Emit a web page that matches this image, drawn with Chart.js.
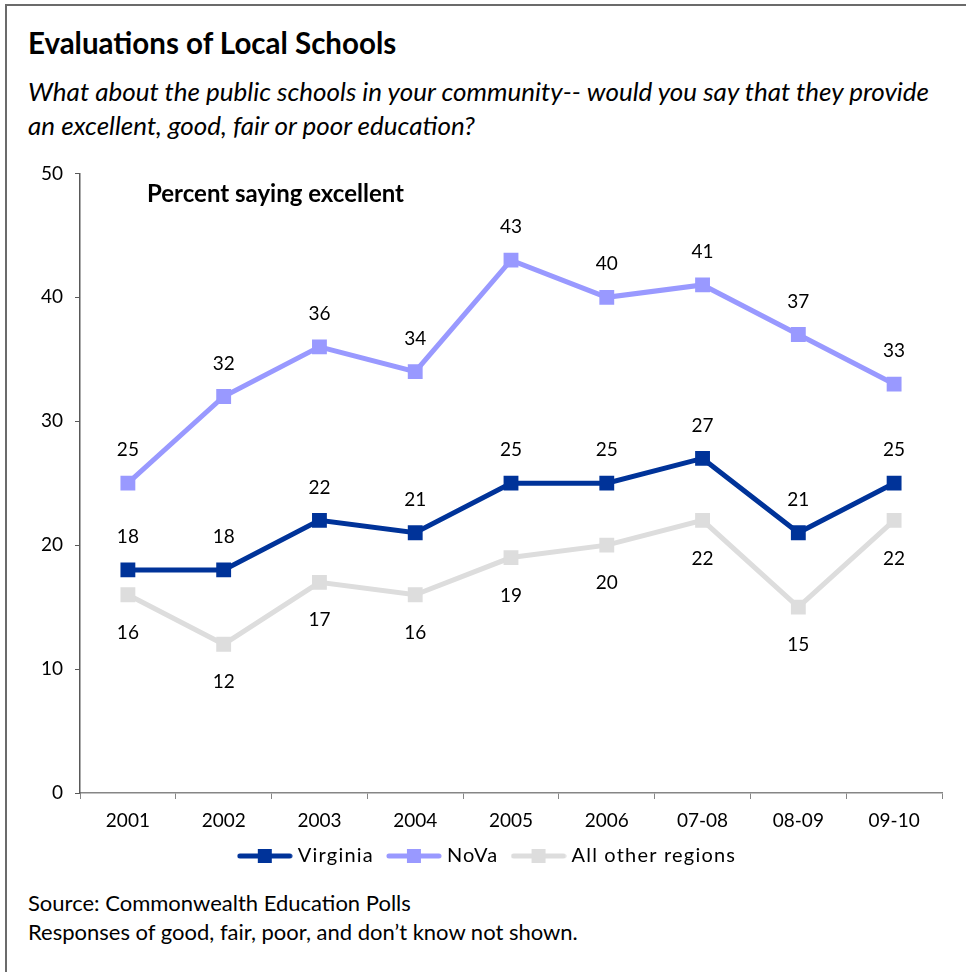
<!DOCTYPE html>
<html lang="en">
<head>
  <meta charset="UTF-8" />
  <title>Evaluations of Local Schools</title>
  <script src="https://cdn.jsdelivr.net/npm/chart.js"></script>
  <style>
    body {
      margin: 0;
      background: #ffffff;
      font-family: 'Lato', sans-serif;
      color: #000000;
    }

    .frame {
      position: relative;
      width: 966px;
      height: 972px;
      overflow: hidden;
    }

    .border {
      position: absolute;
      left: 5px;
      top: 4px;
      width: 1000px;
      height: 1000px;
      border: 2px solid #6b6b6b;
    }

    h1 {
      position: absolute;
      left: 28px;
      top: 26px;
      margin: 0;
      font-size: 29.5px;
      line-height: 34px;
      font-weight: 700;
    }

    p.question {
      position: absolute;
      left: 28px;
      top: 74px;
      margin: 0;
      width: 912px;
      font-size: 26px;
      line-height: 34px;
      font-style: italic;
    }

    .notes {
      position: absolute;
      left: 28px;
      top: 888px;
      margin: 0;
      font-size: 22px;
      line-height: 29px;
    }

    .chart-box {
      position: absolute;
      left: 0;
      top: 150px;
      width: 966px;
      height: 730px;
    }
  </style>
</head>
<body>
  <div class="frame">
    <div class="border"></div>
    <h1>Evaluations of Local Schools</h1>
    <p class="question">What about the public schools in your community-- would you say that they provide an excellent, good, fair or poor education?</p>

    <div class="chart-box">
      <canvas id="schoolsChart"></canvas>
    </div>

    <div class="notes">
      Source: Commonwealth Education Polls<br>
      Responses of good, fair, poor, and don’t know not shown.
    </div>
  </div>

  <script>
    const years = ['2001', '2002', '2003', '2004', '2005', '2006', '07-08', '08-09', '09-10'];
    const virginia = [18, 18, 22, 21, 25, 25, 27, 21, 25];
    const nova = [25, 32, 36, 34, 43, 40, 41, 37, 33];
    const otherRegions = [16, 12, 17, 16, 19, 20, 22, 15, 22];
    const yTicks = [0, 10, 20, 30, 40, 50];

    const colors = {
      virginia: '#003399',
      nova: '#9999ff',
      other: '#dddddd'
    };

    // legend swatch: thick line with a square in the middle
    function swatch(color) {
      const c = document.createElement('canvas');
      c.width = 56;
      c.height = 16;
      const g = c.getContext('2d');
      g.strokeStyle = color;
      g.lineWidth = 5;
      g.lineCap = 'round';
      g.beginPath();
      g.moveTo(3, 8);
      g.lineTo(53, 8);
      g.stroke();
      g.fillStyle = color;
      g.fillRect(21, 1, 14, 14);
      return c;
    }

    // legend text is a little spaced out
    const legendSpacing = {
      id: 'legendSpacing',
      afterInit(chart) {
        const lg = chart.legend;
        if (!lg) return;
        ['fit', 'draw'].forEach(fn => {
          const orig = lg[fn].bind(lg);
          lg[fn] = function (...args) {
            const ctx = chart.ctx;
            const prev = ctx.letterSpacing;
            ctx.letterSpacing = '1.2px';
            orig(...args);
            ctx.letterSpacing = prev;
          };
        });
      }
    };

    // value labels above (or below) every point
    const valueLabels = {
      id: 'valueLabels',
      afterDatasetsDraw(chart) {
        const ctx = chart.ctx;
        ctx.save();
        ctx.font = '19px Lato';
        ctx.fillStyle = '#000000';
        ctx.textAlign = 'center';
        ctx.textBaseline = 'middle';
        chart.data.datasets.forEach((ds, i) => {
          const meta = chart.getDatasetMeta(i);
          meta.data.forEach((pt, j) => {
            const dy = ds.labelBelow ? 38 : -33;
            ctx.fillText(ds.data[j], pt.x, pt.y + dy);
          });
        });
        ctx.font = 'bold 24px Lato';
        ctx.textAlign = 'left';
        ctx.fillText('Percent saying excellent', chart.chartArea.left + 67, chart.chartArea.top + 21);
        ctx.restore();
      }
    };

    function series(label, data, color, below) {
      return {
        label: label,
        data: data,
        borderColor: color,
        backgroundColor: color,
        borderWidth: 5,
        pointStyle: 'rect',
        pointRadius: 10.5,
        pointBorderWidth: 0,
        pointHoverRadius: 10.5,
        tension: 0,
        labelBelow: below
      };
    }

    new Chart(document.getElementById('schoolsChart'), {
      type: 'line',
      data: {
        labels: years,
        datasets: [
          series('All other regions', otherRegions, colors.other, true),
          series('NoVa', nova, colors.nova, false),
          series('Virginia', virginia, colors.virginia, false)
        ]
      },
      options: {
        responsive: true,
        maintainAspectRatio: false,
        animation: false,
        layout: {
          padding: { left: 36, right: 24, top: 22, bottom: 4 }
        },
        plugins: {
          tooltip: { enabled: false },
          legend: {
            position: 'bottom',
            labels: {
              color: '#000000',
              font: { family: 'Lato', size: 20 },
              usePointStyle: true,
              pointStyleWidth: 46,
              padding: 17,
              generateLabels(chart) {
                return chart.data.datasets.map((ds, i) => ({
                  text: ds.label,
                  fillStyle: ds.borderColor,
                  strokeStyle: ds.borderColor,
                  lineWidth: 0,
                  pointStyle: swatch(ds.borderColor),
                  datasetIndex: i,
                  fontColor: '#000000'
                })).reverse();
              }
            }
          }
        },
        scales: {
          x: {
            offset: true,
            afterFit(scale) { scale.height = 36; },
            grid: {
              offset: true,
              drawOnChartArea: false,
              tickLength: 6,
              color: '#868686'
            },
            border: { color: '#868686', width: 1.5 },
            ticks: {
              color: '#000000',
              font: { family: 'Lato', size: 19 },
              padding: 10
            }
          },
          y: {
            min: 0,
            max: 50,
            afterFit(scale) { scale.width = 44; },
            afterBuildTicks(scale) {
              scale.ticks = yTicks.map(v => ({ value: v }));
            },
            grid: {
              drawOnChartArea: false,
              tickLength: 5,
              color: '#595959'
            },
            border: { color: '#595959', width: 1.5 },
            ticks: {
              color: '#000000',
              font: { family: 'Lato', size: 19 },
              padding: 12
            }
          }
        }
      },
      plugins: [legendSpacing, valueLabels]
    });
  </script>
</body>
</html>
